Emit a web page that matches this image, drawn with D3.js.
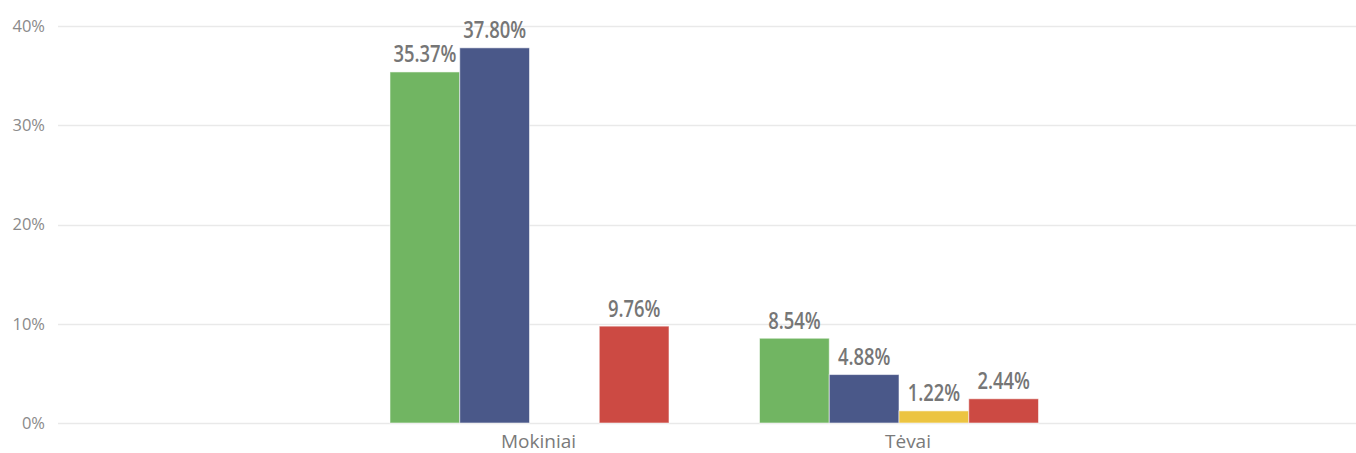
<!DOCTYPE html>
<html>
<head>
<meta charset="utf-8">
<script src="https://cdn.jsdelivr.net/npm/d3@7"></script>
<style>
  html, body { margin: 0; padding: 0; background: #fff; }
  svg { display: block; }
</style>
</head>
<body>
<svg id="chart" width="1356" height="453"></svg>
<script>
// ---- data ----
const categories = ["Mokiniai", "Tėvai"];
const seriesNames = ["S1", "S2", "S3", "S4"];
const seriesColors = ["#71b562", "#4a5889", "#ecc441", "#cc4a43"];
const valuesS1 = [35.37, 8.54];
const valuesS2 = [37.80, 4.88];
const valuesS3 = [null, 1.22];
const valuesS4 = [9.76, 2.44];
const yTicks = [0, 10, 20, 30, 40];
const yTickLabels = ["0%", "10%", "20%", "30%", "40%"];

const seriesValues = [valuesS1, valuesS2, valuesS3, valuesS4];

const svg = d3.select("#chart");
const plotLeft = 58, plotRight = 1356;

const y = d3.scaleLinear().domain([0, 40]).range([423, 26]);
const x = d3.scaleBand().domain(categories).range([67.6, 1360.9]).paddingOuter(0.75).paddingInner(0);
const groupW = 279;
const xs = d3.scaleBand().domain(seriesNames).range([0, groupW]).padding(0);

// gridlines
svg.append("g").selectAll("line").data(yTicks).join("line")
  .attr("x1", plotLeft).attr("x2", plotRight)
  .attr("y1", d => Math.round(y(d)) + 0.5).attr("y2", d => Math.round(y(d)) + 0.5)
  .attr("stroke", "#e9e9e9").attr("stroke-width", 1.5);

// y tick labels
svg.append("g").selectAll("text").data(yTicks).join("text")
  .attr("x", 45).attr("y", d => y(d))
  .attr("dy", "0.36em")
  .attr("text-anchor", "end")
  .attr("font-family", "'Open Sans', sans-serif")
  .attr("font-size", 16.5)
  .attr("fill", "#8a8a8a")
  .text((d, i) => yTickLabels[i]);

// x labels
svg.append("g").selectAll("text").data(categories).join("text")
  .attr("x", d => x(d) + x.bandwidth() / 2 + 9)
  .attr("y", 447.5)
  .attr("text-anchor", "middle")
  .attr("font-family", "'Open Sans', sans-serif")
  .attr("font-size", 19)
  .attr("fill", "#7a7a7a")
  .text(d => d);

// bars
const items = [];
categories.forEach((c, ci) => {
  seriesNames.forEach((s, si) => {
    const v = seriesValues[si][ci];
    if (v != null) items.push({ c, s, si, v });
  });
});

const gx = c => x(c) + (x.bandwidth() - groupW) / 2;

svg.append("g").selectAll("rect").data(items).join("rect")
  .attr("x", d => gx(d.c) + xs(d.s))
  .attr("y", d => y(d.v))
  .attr("width", xs.bandwidth())
  .attr("height", d => y(0) - y(d.v))
  .attr("fill", d => seriesColors[d.si])
  .attr("stroke", "rgba(255,255,255,0.55)")
  .attr("stroke-width", 1);

// value labels
svg.append("g").selectAll("text").data(items).join("text")
  .attr("transform", d => `translate(${gx(d.c) + xs(d.s) + xs.bandwidth() / 2},${y(d.v) - 9.5}) scale(0.8,1)`)
  .attr("text-anchor", "middle")
  .attr("font-family", "'Open Sans', sans-serif")
  .attr("font-weight", 600)
  .attr("font-size", 23)
  .attr("fill", "#767676")
  .text(d => d.v.toFixed(2) + "%");
</script>
</body>
</html>
